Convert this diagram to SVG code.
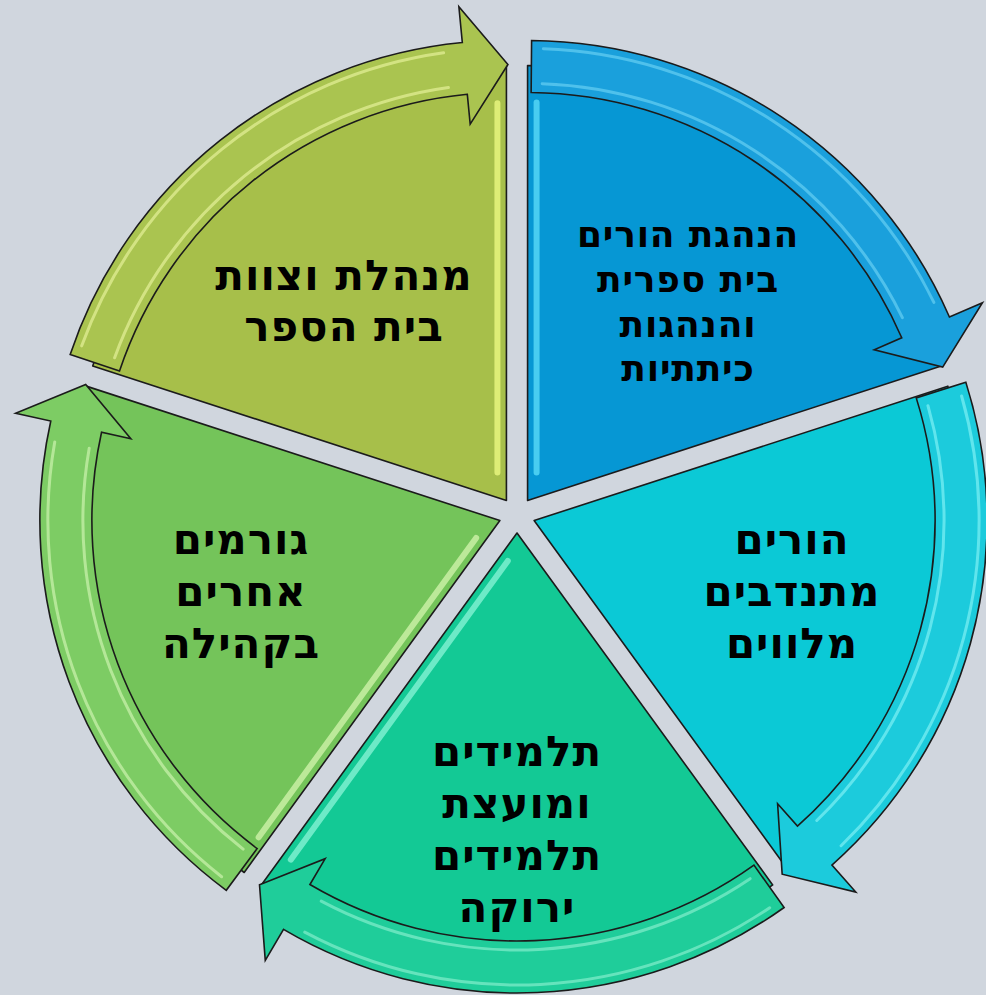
<svg xmlns="http://www.w3.org/2000/svg" width="986" height="995" viewBox="0 0 986 995">
<style>
.w{stroke:#1b1b1b;stroke-width:1.6;stroke-linejoin:round}
.a{stroke:#1b1b1b;stroke-width:1.6;stroke-linejoin:miter}
.hl{fill:none;stroke-width:3;stroke-linecap:round;opacity:0.65}
.es{fill:none;stroke-width:6;stroke-linecap:round;opacity:0.85}
.t{font-family:"DejaVu Sans","Liberation Sans",Arial,sans-serif;font-weight:bold;font-size:42px;letter-spacing:1px;fill:#000;text-anchor:middle}
.tb{font-size:36px;letter-spacing:0.8px}
</style>
<defs>
<path id="wedge" d="M0,0 L435,0 A435,435 0 0 1 134.42,413.71 Z"/>
<path id="arrow" d="M459.98,4.01 A460,460 0 0 1 183.43,421.85 L197.78,454.86 L133.29,415.12 L150.73,346.65 L162.69,374.16 A408,408 0 0 0 407.98,3.56 Z"/>
<path id="hlo" d="M451.7,15.8 A452,452 0 0 1 198.1,406.3"/>
<path id="hli" d="M416.7,14.6 A417,417 0 0 1 182.8,374.8"/>
<path id="edgeS" d="M28,9 L398,9"/>
<path id="edgeE" d="M17.2,23.9 L131.3,375.0"/>
</defs>
<rect width="986" height="995" fill="#d0d6de"/>

<g id="node-blue">
<g transform="translate(527.58,500.44) rotate(-90)">
<use href="#wedge" class="w" fill="#0697d4"/>
<use href="#edgeS" class="es" stroke="#55d6f6"/>
</g>
<text class="t tb" x="688" y="247">הנהגת הורים</text>
<text class="t tb" x="688" y="292">בית ספרית</text>
<text class="t tb" x="688" y="337">והנהגות</text>
<text class="t tb" x="688" y="381">כיתתיות</text>
</g>

<g id="node-cyan">
<g transform="translate(534.12,520.56) rotate(-18)">
<use href="#wedge" class="w" fill="#0bc9d6"/>
</g>
<text class="t" x="792" y="554">הורים</text>
<text class="t" x="792" y="606">מתנדבים</text>
<text class="t" x="792" y="658">מלווים</text>
</g>

<g id="node-teal">
<g transform="translate(517,533) rotate(54)">
<use href="#wedge" class="w" fill="#13c995"/>
<use href="#edgeE" class="es" stroke="#7ef0d0"/>
</g>
<text class="t" x="517" y="766">תלמידים</text>
<text class="t" x="517" y="818">ומועצת</text>
<text class="t" x="517" y="870">תלמידים</text>
<text class="t" x="517" y="922">ירוקה</text>
</g>

<g id="node-green">
<g transform="translate(499.88,520.56) rotate(126)">
<use href="#wedge" class="w" fill="#74c45a"/>
<use href="#edgeS" class="es" stroke="#c9f0a4"/>
</g>
<text class="t" x="241" y="554">גורמים</text>
<text class="t" x="241" y="606">אחרים</text>
<text class="t" x="241" y="658">בקהילה</text>
</g>

<g id="node-olive">
<g transform="translate(506.42,500.44) rotate(198)">
<use href="#wedge" class="w" fill="#a7bf4a"/>
<use href="#edgeE" class="es" stroke="#e8f47e"/>
</g>
<text class="t" x="344" y="290">מנהלת וצוות</text>
<text class="t" x="344" y="341">בית הספר</text>
</g>

<g id="connectors">
<g transform="translate(527.58,500.44) rotate(-90)">
<use href="#arrow" class="a" fill="#1aa0dc"/>
<use href="#hlo" class="hl" stroke="#6cd2f4"/>
<use href="#hli" class="hl" stroke="#6cd2f4"/>
</g>
<g transform="translate(527.12,520.56) rotate(-18)">
<use href="#arrow" class="a" fill="#1ccbdc"/>
<use href="#hlo" class="hl" stroke="#86f2f6"/>
<use href="#hli" class="hl" stroke="#86f2f6"/>
</g>
<g transform="translate(517,533) rotate(54)">
<use href="#arrow" class="a" fill="#1fcd9a"/>
<use href="#hlo" class="hl" stroke="#8cf0cf"/>
<use href="#hli" class="hl" stroke="#8cf0cf"/>
</g>
<g transform="translate(499.88,520.56) rotate(126)">
<use href="#arrow" class="a" fill="#7dcc64"/>
<use href="#hlo" class="hl" stroke="#d2f6b4"/>
<use href="#hli" class="hl" stroke="#d2f6b4"/>
</g>
<g transform="translate(506.42,500.44) rotate(198)">
<use href="#arrow" class="a" fill="#aac450"/>
<use href="#hlo" class="hl" stroke="#eaf59e"/>
<use href="#hli" class="hl" stroke="#eaf59e"/>
</g>
</g>
</svg>
